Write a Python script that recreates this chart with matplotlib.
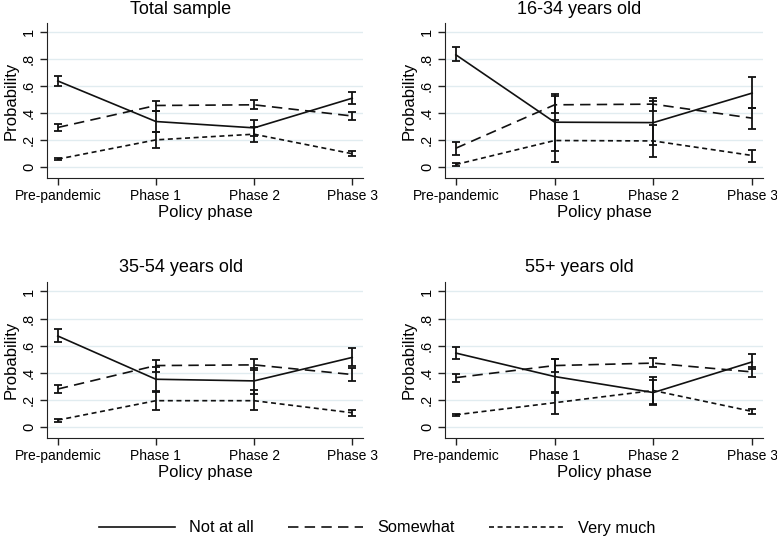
import matplotlib
matplotlib.use("Agg")
import matplotlib.pyplot as plt
from matplotlib.lines import Line2D
import numpy as np

plt.rcParams['font.family'] = ['Liberation Sans', 'DejaVu Sans']
plt.rcParams['lines.scale_dashes'] = False

phases = ["Pre-pandemic", "Phase 1", "Phase 2", "Phase 3"]
titles = ["Total sample", "16-34 years old", "35-54 years old", "55+ years old"]
series_names = ["Not at all", "Somewhat", "Very much"]
y_ticks = [0, 0.2, 0.4, 0.6, 0.8, 1.0]
y_tick_labels = ["0", ".2", ".4", ".6", ".8", "1"]

# rows = panels (Total, 16-34, 35-54, 55+), columns = phases
not_at_all = [[0.640, 0.339, 0.292, 0.512],
              [0.834, 0.334, 0.331, 0.550],
              [0.672, 0.353, 0.341, 0.514],
              [0.546, 0.373, 0.255, 0.481]]
not_at_all_lo = [[0.605, 0.264, 0.230, 0.470],
                 [0.785, 0.124, 0.167, 0.438],
                 [0.627, 0.260, 0.247, 0.449],
                 [0.500, 0.250, 0.160, 0.425]]
not_at_all_hi = [[0.680, 0.420, 0.350, 0.557],
                 [0.890, 0.544, 0.495, 0.668],
                 [0.726, 0.447, 0.435, 0.580],
                 [0.593, 0.500, 0.350, 0.538]]

somewhat = [[0.295, 0.458, 0.463, 0.380],
            [0.141, 0.463, 0.468, 0.364],
            [0.281, 0.454, 0.459, 0.388],
            [0.365, 0.454, 0.472, 0.407]]
somewhat_lo = [[0.270, 0.420, 0.430, 0.350],
               [0.090, 0.400, 0.420, 0.285],
               [0.250, 0.410, 0.420, 0.343],
               [0.335, 0.410, 0.440, 0.370]]
somewhat_hi = [[0.320, 0.493, 0.500, 0.410],
               [0.190, 0.525, 0.513, 0.438],
               [0.310, 0.496, 0.501, 0.433],
               [0.395, 0.500, 0.509, 0.440]]

very_much = [[0.060, 0.203, 0.245, 0.100],
             [0.020, 0.198, 0.195, 0.087],
             [0.052, 0.195, 0.195, 0.106],
             [0.091, 0.180, 0.270, 0.116]]
very_much_lo = [[0.050, 0.141, 0.190, 0.080],
                [0.010, 0.042, 0.079, 0.040],
                [0.040, 0.126, 0.126, 0.080],
                [0.080, 0.100, 0.168, 0.100]]
very_much_hi = [[0.070, 0.264, 0.300, 0.120],
                [0.030, 0.354, 0.310, 0.130],
                [0.060, 0.264, 0.274, 0.130],
                [0.100, 0.260, 0.373, 0.135]]

styles = ['-', (0, (7.5, 4.5)), (0, (3.6, 2.6))]
est_sets = [not_at_all, somewhat, very_much]
lo_sets = [not_at_all_lo, somewhat_lo, very_much_lo]
hi_sets = [not_at_all_hi, somewhat_hi, very_much_hi]

W, H = 777, 538
fig = plt.figure(figsize=(W / 100, H / 100), dpi=100)

# axes boxes in pixels: left, top, right, bottom
boxes = [(47, 23, 363, 178), (445, 23, 763, 178),
         (47, 282, 363, 438), (445, 282, 763, 438)]

grid_color = '#e1ecf0'
line_color = '#111111'
x = np.arange(len(phases))

for i, (l, t, r, b) in enumerate(boxes):
    ax = fig.add_axes([l / W, 1 - b / H, (r - l) / W, (b - t) / H])
    for s in range(3):
        est = np.array(est_sets[s][i])
        lo = np.array(lo_sets[s][i])
        hi = np.array(hi_sets[s][i])
        ax.errorbar(x, est, yerr=[est - lo, hi - est], fmt='none',
                    ecolor=line_color, elinewidth=1.3, capsize=2.6,
                    capthick=1.3, zorder=3)
        ax.plot(x, est, color=line_color, linestyle=styles[s], lw=1.2,
                zorder=4)
    ax.set_xlim(-0.11, 3.11)
    ax.set_ylim(-0.08, 1.07)
    ax.set_yticks(y_ticks)
    ax.set_yticklabels(y_tick_labels, rotation=90, va='center', fontsize=10.5)
    ax.set_xticks(x)
    ax.set_xticklabels(phases, fontsize=10)
    ax.tick_params(axis='both', length=5, width=1, color='#222222', pad=3)
    for yv in y_ticks:
        ax.axhline(yv, color=grid_color, lw=1.0, zorder=0)
    ax.spines['top'].set_visible(False)
    ax.spines['right'].set_visible(False)
    ax.spines['left'].set_color('#222222')
    ax.spines['bottom'].set_color('#222222')
    ax.set_ylabel("Probability", fontsize=12, labelpad=2)
    ax.set_xlabel("Policy phase", fontsize=12, labelpad=1)
    ax.text(134 / (r - l), 1 + 14 / (b - t), titles[i], transform=ax.transAxes,
            ha='center', va='center', fontsize=13)

handles = [Line2D([0], [0], color=line_color, lw=1.2, linestyle=st)
           for st in styles]
fig.legend(handles, series_names, loc='center',
           bbox_to_anchor=(0.5 - 11 / W, 1 - 528 / H),
           ncol=3, frameon=False, fontsize=11.8, handlelength=4.6,
           handletextpad=0.85, columnspacing=2.1)

fig.savefig("out.png", dpi=100)
